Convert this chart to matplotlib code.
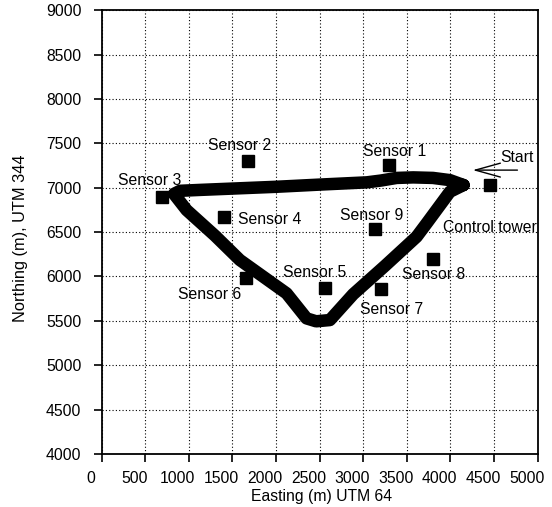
import matplotlib
matplotlib.use("Agg")
import matplotlib.pyplot as plt
import matplotlib.transforms as mtransforms

plt.rcParams['font.family'] = ['Liberation Sans', 'DejaVu Sans']

# Sensor and tower locations (UTM easting / northing, metres)
sensor_names = ["Sensor 1", "Sensor 2", "Sensor 3", "Sensor 4", "Sensor 5",
                "Sensor 6", "Sensor 7", "Sensor 8", "Sensor 9", "Control tower"]
sensor_east = [3295, 1680, 690, 1400, 2560, 1660, 3200, 3800, 3140, 4450]
sensor_north = [7255, 7300, 6890, 6675, 5870, 5980, 5860, 6200, 6530, 7030]

# Where each name is written
label_east = [3364, 1586, 554, 1930, 2446, 1242, 3326, 3803, 3096, 4453]
label_north = [7404, 7472, 7078, 6643, 6046, 5802, 5633, 6024, 6684, 6553]

# Flight track, starting near the control tower
track_east = [4150, 3995, 3800, 3574, 3383, 3200, 3039, 2503, 2000, 1500, 1127, 900, 830,
              975, 1300, 1586, 2121, 2350, 2460, 2618, 2885, 3250, 3612, 3727, 3994, 4150]
track_north = [7030, 7085, 7110, 7116, 7110, 7080, 7060, 7035, 7010, 6990, 6975, 6965, 6930,
               6748, 6460, 6185, 5810, 5528, 5495, 5509, 5800, 6120, 6447, 6598, 6954, 7030]

x_ticks = [0, 500, 1000, 1500, 2000, 2500, 3000, 3500, 4000, 4500, 5000]
y_ticks = [4000, 4500, 5000, 5500, 6000, 6500, 7000, 7500, 8000, 8500, 9000]

FS = 11.3

fig = plt.figure(figsize=(5.52, 5.07), dpi=100)
ax = fig.add_axes([0.184, 0.1045, 0.79, 0.8755])

ax.plot(track_east, track_north, color='black', lw=9,
        solid_capstyle='round', solid_joinstyle='round', zorder=3)
ax.plot(sensor_east, sensor_north, linestyle='none', marker='s',
        markersize=8, color='black', zorder=4)

for name, lx, ly in zip(sensor_names, label_east, label_north):
    ax.text(lx, ly, name, ha='center', va='center', fontsize=FS, zorder=5)

# Take-off marker
ax.annotate("", xy=(4224, 7198), xytext=(4800, 7198),
            arrowprops=dict(arrowstyle='->,head_length=1.8,head_width=0.5',
                            color='black', lw=1.0), zorder=5)
ax.text(4567, 7345, "Start", ha='left', va='center', fontsize=FS, zorder=5)

ax.set_xlim(0, 5000)
ax.set_ylim(4000, 9000)
ax.set_xticks(x_ticks)
ax.set_yticks(y_ticks)
ax.set_xticklabels([])
ax.set_yticklabels([str(v) for v in y_ticks], fontsize=FS)

# Easting labels sit a little to the left of their ticks
xlab_tr = mtransforms.blended_transform_factory(ax.transData, ax.transAxes) + \
    mtransforms.ScaledTranslation(-11 / 100, -17 / 100, fig.dpi_scale_trans)
for v in x_ticks:
    ax.text(v, 0, str(v), transform=xlab_tr, ha='center', va='top',
            fontsize=FS, clip_on=False)

ax.tick_params(axis='both', direction='out', length=6, width=1.2, color='black')
ax.tick_params(axis='y', pad=8.6)

ax.grid(True, color='black', linestyle=(0, (1, 2)), linewidth=0.8)
ax.set_axisbelow(True)
for side in ['left', 'bottom', 'top', 'right']:
    ax.spines[side].set_linewidth(1.3)
    ax.spines[side].set_color('black')

ax.set_xlabel("Easting (m) UTM 64", fontsize=FS)
ax.xaxis.set_label_coords(0.505, -0.079)
ax.set_ylabel("Northing (m), UTM 344", fontsize=11.8)
ax.yaxis.set_label_coords(-0.168, 0.487)

fig.savefig("out.png", dpi=100)
